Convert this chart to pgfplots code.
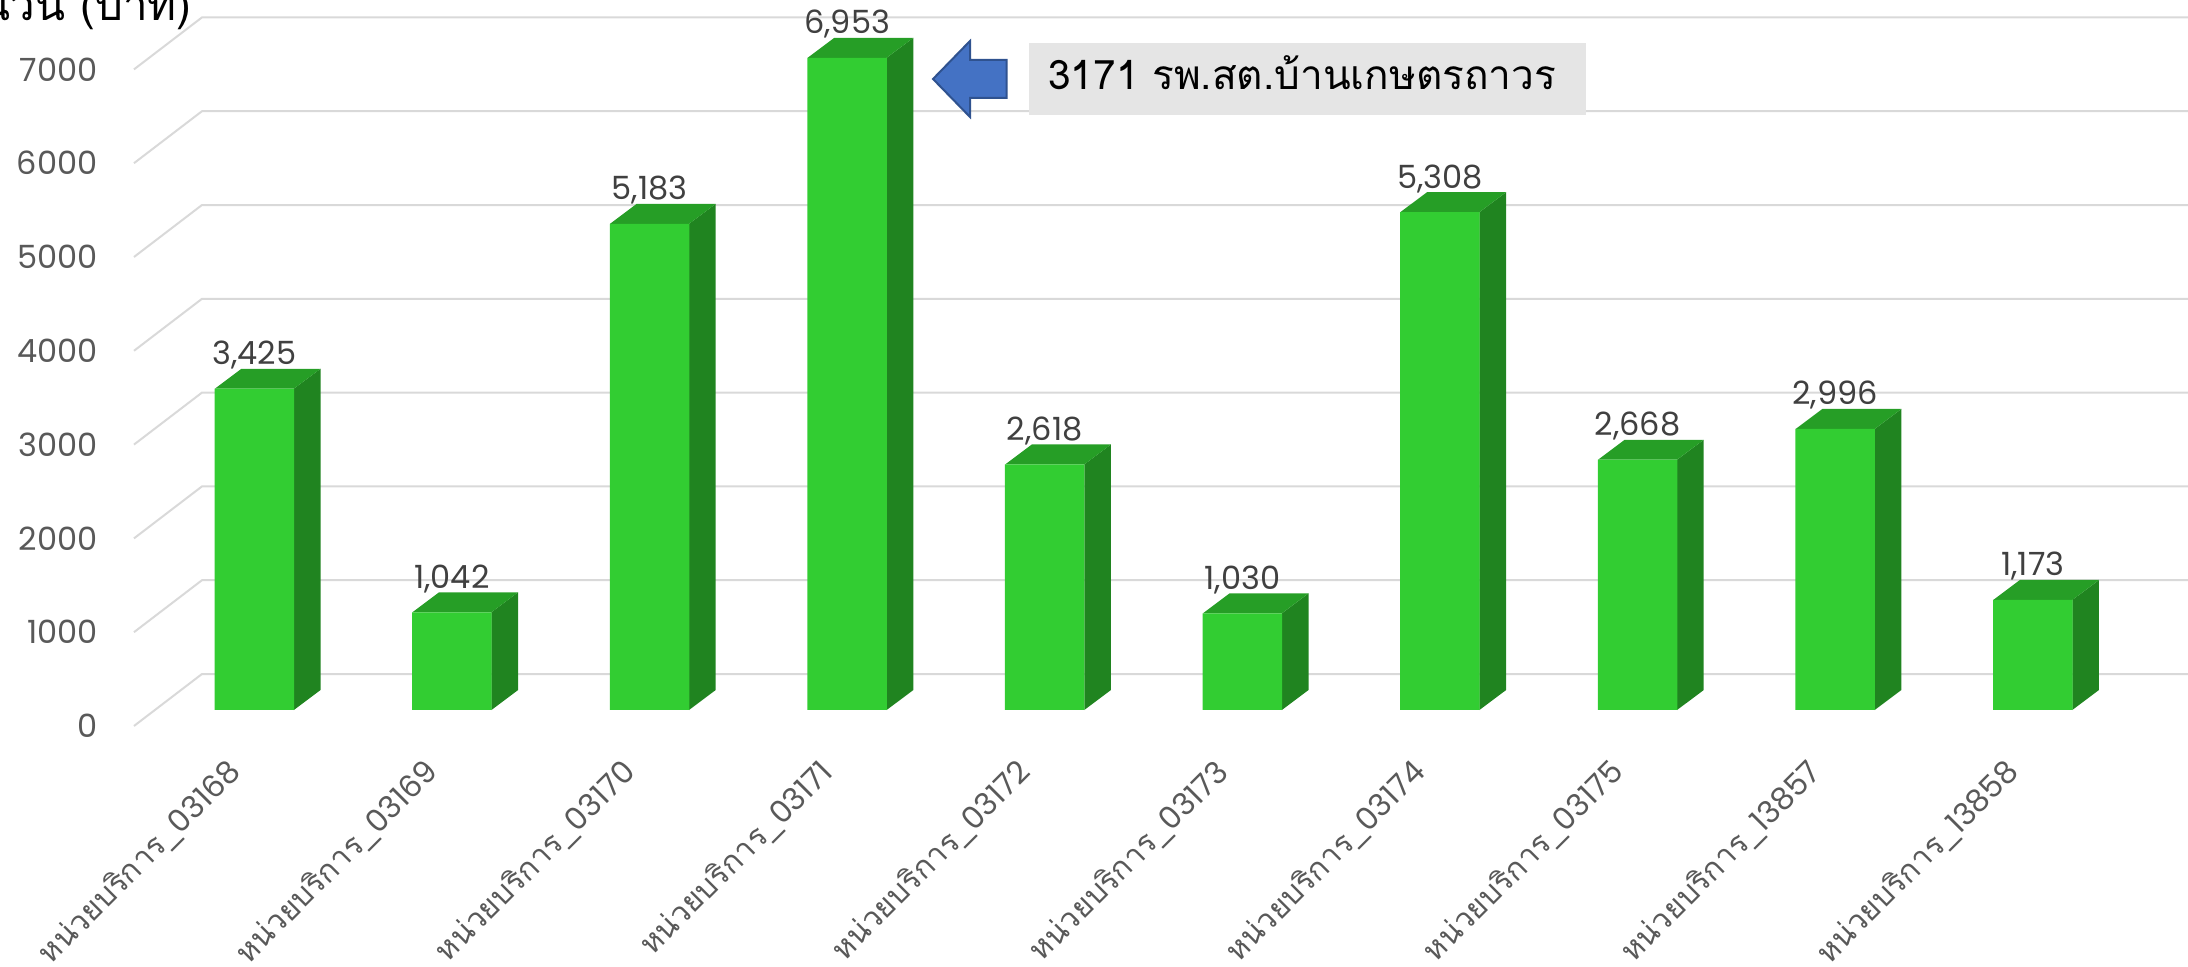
\documentclass[border=0pt]{standalone}
\usepackage{fontspec}
\setmainfont{Poppins}
\newfontfamily\thaifont[Script=Thai]{Loma}
\usepackage{pgfplots}
\usepackage{pgfplotstable}
\pgfplotsset{compat=1.18}
\definecolor{gridc}{HTML}{D9D9D9}
\definecolor{frontc}{HTML}{32CD32}
\definecolor{topc}{HTML}{269E26}
\definecolor{sidec}{HTML}{208420}
\definecolor{tickc}{HTML}{595959}
\definecolor{valc}{HTML}{404040}

\pgfplotstableread{
x v
0 3425
1 1042
2 5183
3 6953
4 2618
5 1030
6 5308
7 2668
8 2996
9 1173
}\bardata

% 1 reference pixel = 0.5pt
\newcommand{\px}[2]{({#1*0.5pt},{(967-#2)*0.5pt})}
\newcommand{\unitlabel}[1]{{\thaifont หน่วยบริการ\_}#1}

\begin{document}
\begin{tikzpicture}
\path[use as bounding box, clip] (0,0) rectangle (1094pt,483.5pt);
\begin{axis}[
    at={(0,0)}, anchor=south west,
    scale only axis, width=1094pt, height=483.5pt,
    xmin=-1.287, xmax=9.786,
    ymin=-2569.3, ymax=7739.9,
    axis line style={draw=none},
    major tick length=0pt,
    xtick={0,...,9},
    xticklabels={\unitlabel{03168},\unitlabel{03169},\unitlabel{03170},\unitlabel{03171},\unitlabel{03172},\unitlabel{03173},\unitlabel{03174},\unitlabel{03175},\unitlabel{13857},\unitlabel{13858}},
    xticklabel style={rotate=45, anchor=north east, xshift=64pt, yshift=85.2pt, font=\fontsize{15.5}{18}\selectfont, text=tickc, inner sep=0pt},
    ytick={0,1000,...,7000},
    yticklabel style={anchor=east, xshift=49pt, font=\fontsize{16}{18}\selectfont, text=tickc, inner sep=0pt,
        /pgf/number format/assume math mode=true, /pgf/number format/1000 sep={}},
    ylabel={\thaifont จำนวน (บาท)},
    ylabel style={rotate=-90, at={(axis description cs:0.0877,0.9793)}, anchor=base east, font=\fontsize{22}{26}\selectfont, inner sep=0pt},
    tick pos=lower,
]
% gridlines on the floor and back wall
\pgfplotsinvokeforeach{0,1000,...,7000}{
    \pgfmathsetmacro\yb{#1+554}
    \addplot[gridc, line width=1pt, forget plot] coordinates {(-0.609,#1) (-0.265,\yb) (9.786,\yb)};
}
% depth faces of the bars
\pgfplotsinvokeforeach{0,...,9}{
    \pgfplotstablegetelem{#1}{v}\of\bardata
    \pgfmathsetmacro\ya{\pgfplotsretval+170.5}
    \pgfmathsetmacro\yc{\ya+213}
    \pgfmathsetmacro\xl{#1-0.2}
    \pgfmathsetmacro\xr{#1+0.2}
    \pgfmathsetmacro\xs{#1+0.335}
    \pgfmathsetmacro\xt{#1-0.065}
    \addplot[draw=none, fill=sidec, forget plot] coordinates {(\xr,170.5) (\xs,383.5) (\xs,\yc) (\xr,\ya)} --cycle;
    \addplot[draw=none, fill=topc, forget plot] coordinates {(\xl,\ya) (\xr,\ya) (\xs,\yc) (\xt,\yc)} --cycle;
}
% front faces with value labels, floor offset 16px
\addplot[ybar, bar width=39.75pt, draw=none, fill=frontc, yshift=8pt,
    nodes near coords,
    point meta=y,
    every node near coord/.append style={anchor=base, yshift=12pt, font=\fontsize{16}{18}\selectfont, text=valc, inner sep=0pt,
        /pgf/number format/fixed, /pgf/number format/precision=0,
        /pgf/number format/1000 sep={,}, /pgf/number format/assume math mode=true},
] table[x=x, y=v] {\bardata};
\end{axis}
% callout
\fill[fill=black!10] \px{1029}{43} rectangle \px{1586}{115};
\node[anchor=base west, inner sep=0pt, font=\fontsize{20.3}{24}\selectfont\thaifont] at \px{1048}{90} {3171 รพ.สต.บ้านเกษตรถาวร};
\draw[fill={rgb,255:red,68;green,114;blue,196}, draw={rgb,255:red,47;green,82;blue,143}, line width=1pt]
    \px{933}{79} -- \px{970}{41} -- \px{970}{60} -- \px{1006.5}{60} -- \px{1006.5}{98} -- \px{970}{98} -- \px{970}{117} -- cycle;
\end{tikzpicture}
\end{document}
